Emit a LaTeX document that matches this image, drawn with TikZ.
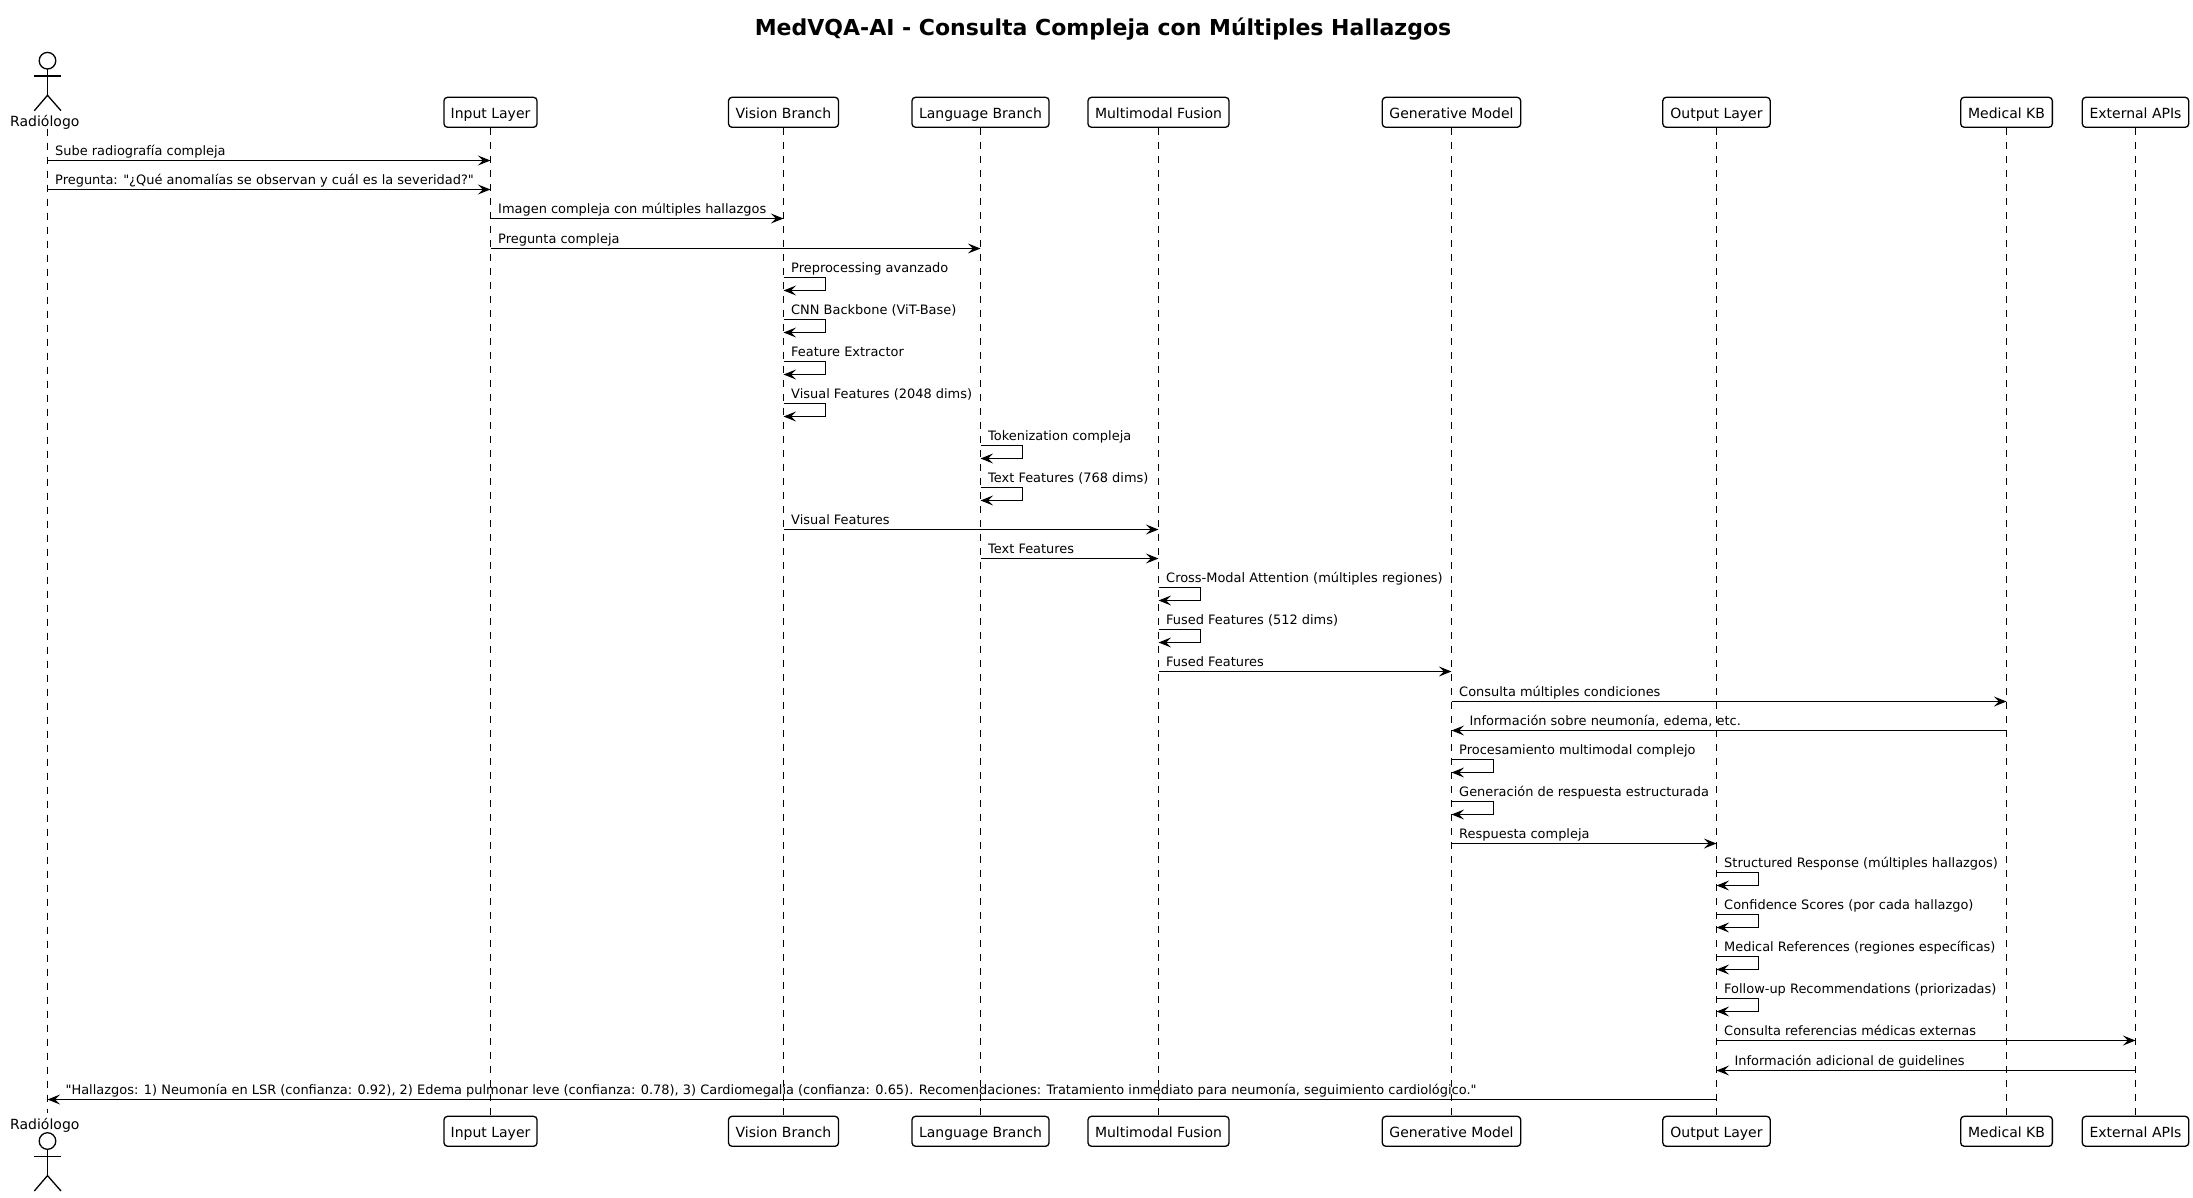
\documentclass[tikz,border=0pt]{standalone}
\usepackage{fontspec}
\newfontfamily\plainfont{DejaVu Sans}
\usetikzlibrary{arrows.meta}
\tikzset{
    partbox/.style={draw,line width=1.3pt,rounded corners=3.5pt,minimum height=30pt,inner xsep=0pt,inner ysep=0pt,text height=13pt,text depth=1.5pt,font=\plainfont\fontsize{14}{16}\selectfont},
    actorlabel/.style={inner sep=0pt,anchor=base,font=\plainfont\fontsize{14}{16}\selectfont},
    lifeline/.style={line width=1.3pt,dash pattern=on 7pt off 7pt},
    msgline/.style={line width=1.4pt,-{Stealth[length=12.6pt,width=10pt,inset=5pt]}},
    msgtext/.style={inner sep=0pt,anchor=base west,font=\plainfont\fontsize{12.95}{15}\selectfont},
    figline/.style={line width=1.3pt}
}
\begin{document}
\begin{tikzpicture}[x=1pt,y=-1pt]
    \newcommand{\actorfig}[1]{
        \draw[figline] (47.5,#1) circle (8.3pt);
        \draw[figline] (47.5,#1+8.3) -- (47.5,#1+34.6);
        \draw[figline] (34.3,#1+15.3) -- (61,#1+15.3);
        \draw[figline] (34.3,#1+50) -- (47.5,#1+34.6) -- (61,#1+50);
    }
    \newcommand{\msgright}[5]{
        \coordinate (#1a) at (#2 |- 0,#4);
        \coordinate (#1b) at (#3 |- 0,#4);
        \draw[msgline] (#1a) -- (#1b);
        \path (#1a) ++(7.5,-5.3) node[msgtext] (#1t) {#5};
    }
    \newcommand{\msgleft}[5]{
        \coordinate (#1a) at (#2 |- 0,#4);
        \coordinate (#1b) at (#3 |- 0,#4);
        \draw[msgline] (#1a) -- (#1b);
        \path (#1b) ++(17.9,-5.3) node[msgtext] (#1t) {#5};
    }
    \newcommand{\msgself}[4]{
        \coordinate (#1a) at (#2 |- 0,#3);
        \coordinate (#1b) at (#2 |- 0,#3+13);
        \draw[msgline] (#1a) -- ++(42,0) -- ++(0,13) -- (#1b);
        \path (#1a) ++(7.5,-4.9) node[msgtext] (#1t) {#4};
    }
    \useasboundingbox (0,0) rectangle (2193,1197);
    \node[inner sep=0pt,anchor=base,font=\plainfont\fontsize{22}{25}\bfseries\selectfont] (title) at (1103,35) {MedVQA-AI - Consulta Compleja con Múltiples Hallazgos};

    % actor top and bottom
    \actorfig{60.7}
    \actorfig{1141}
    \node[actorlabel] (radiolabel) at (44.8,126) {Radiólogo};
    \node[actorlabel] (radiolabelb) at (44.8,1129) {Radiólogo};
    \coordinate (radio) at (47.5,128.5);
    \coordinate (radiob) at (47.5,1113);

    % participants
    \node[partbox,minimum width=93pt] (input) at (490.5,112.3) {Input Layer};
    \node[partbox,minimum width=110pt] (vision) at (783.5,112.3) {Vision Branch};
    \node[partbox,minimum width=137pt] (language) at (980.5,112.3) {Language Branch};
    \node[partbox,minimum width=141pt] (fusion) at (1158.5,112.3) {Multimodal Fusion};
    \node[partbox,minimum width=138.4pt] (generative) at (1451.5,112.3) {Generative Model};
    \node[partbox,minimum width=107.4pt] (output) at (1716.5,112.3) {Output Layer};
    \node[partbox,minimum width=91.7pt] (medical) at (2006.5,112.3) {Medical KB};
    \node[partbox,minimum width=106.4pt] (external) at (2135.5,112.3) {External APIs};

    \node[partbox,minimum width=93pt] (inputb) at (490.5,1131.3) {Input Layer};
    \node[partbox,minimum width=110pt] (visionb) at (783.5,1131.3) {Vision Branch};
    \node[partbox,minimum width=137pt] (languageb) at (980.5,1131.3) {Language Branch};
    \node[partbox,minimum width=141pt] (fusionb) at (1158.5,1131.3) {Multimodal Fusion};
    \node[partbox,minimum width=138.4pt] (generativeb) at (1451.5,1131.3) {Generative Model};
    \node[partbox,minimum width=107.4pt] (outputb) at (1716.5,1131.3) {Output Layer};
    \node[partbox,minimum width=91.7pt] (medicalb) at (2006.5,1131.3) {Medical KB};
    \node[partbox,minimum width=106.4pt] (externalb) at (2135.5,1131.3) {External APIs};

    \foreach \who in {radio,input,vision,language,fusion,generative,output,medical,external}
        \draw[lifeline] (\who) -- (\who b);

    % messages
    \msgright{ma}{radio}{input}{160.5}{Sube radiografía compleja}
    \msgright{mb}{radio}{input}{189.5}{Pregunta: "¿Qué anomalías se observan y cuál es la severidad?"}
    \msgright{mc}{input}{vision}{218.5}{Imagen compleja con múltiples hallazgos}
    \msgright{md}{input}{language}{248.5}{Pregunta compleja}
    \msgself{me}{vision}{277.5}{Preprocessing avanzado}
    \msgself{mf}{vision}{319.5}{CNN Backbone (ViT-Base)}
    \msgself{mg}{vision}{361.5}{Feature Extractor}
    \msgself{mh}{vision}{403.5}{Visual Features (2048 dims)}
    \msgself{mi}{language}{445.5}{Tokenization compleja}
    \msgself{mj}{language}{487.5}{Text Features (768 dims)}
    \msgright{mk}{vision}{fusion}{529.5}{Visual Features}
    \msgright{ml}{language}{fusion}{558.5}{Text Features}
    \msgself{mm}{fusion}{587.5}{Cross-Modal Attention (múltiples regiones)}
    \msgself{mn}{fusion}{629.5}{Fused Features (512 dims)}
    \msgright{mo}{fusion}{generative}{671.5}{Fused Features}
    \msgright{mp}{generative}{medical}{701.5}{Consulta múltiples condiciones}
    \msgleft{mq}{medical}{generative}{730.5}{Información sobre neumonía, edema, etc.}
    \msgself{mr}{generative}{759.5}{Procesamiento multimodal complejo}
    \msgself{ms}{generative}{801.5}{Generación de respuesta estructurada}
    \msgright{mt}{generative}{output}{843.5}{Respuesta compleja}
    \msgself{mu}{output}{872.5}{Structured Response (múltiples hallazgos)}
    \msgself{mv}{output}{914.5}{Confidence Scores (por cada hallazgo)}
    \msgself{mw}{output}{956.5}{Medical References (regiones específicas)}
    \msgself{mx}{output}{998.5}{Follow-up Recommendations (priorizadas)}
    \msgright{my}{output}{external}{1040.5}{Consulta referencias médicas externas}
    \msgleft{mz}{external}{output}{1070.5}{Información adicional de guidelines}
    \msgleft{mend}{output}{radio}{1099.5}{"Hallazgos: 1) Neumonía en LSR (confianza: 0.92), 2) Edema pulmonar leve (confianza: 0.78), 3) Cardiomegalia (confianza: 0.65). Recomendaciones: Tratamiento inmediato para neumonía, seguimiento cardiológico."}
\end{tikzpicture}
\end{document}
